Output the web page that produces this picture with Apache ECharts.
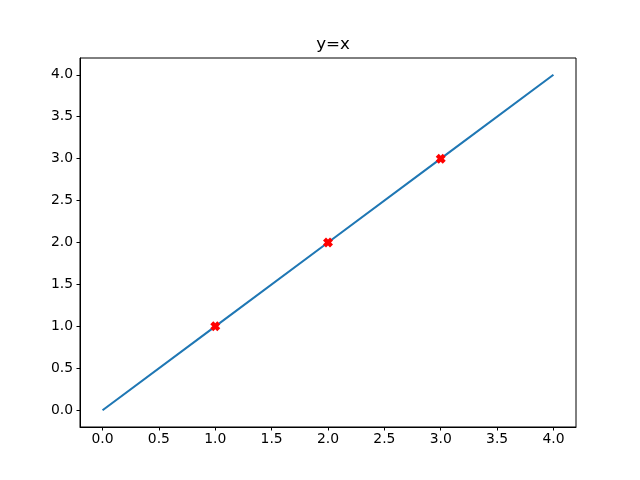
<!DOCTYPE html>
<html><head><meta charset="utf-8">
<script src="https://cdn.jsdelivr.net/npm/echarts@6/dist/echarts.min.js"></script>
<style>html,body{margin:0;padding:0;background:#fff}#c{width:640px;height:480px}</style>
</head><body><div id="c"></div>
<script>
const titleText = 'y=x';
const lineX = [0, 1, 2, 3, 4];
const lineY = [0, 1, 2, 3, 4];
const markX = [1, 2, 3];
const markY = [1, 2, 3];
const xTicks = [0, 0.5, 1, 1.5, 2, 2.5, 3, 3.5, 4];
const yTicks = [0, 0.5, 1, 1.5, 2, 2.5, 3, 3.5, 4];

const font = 'DejaVu Sans';
const chart = echarts.init(document.getElementById('c'), null, {renderer: 'canvas'});
const axisCommon = {
  type: 'value', min: -0.2, max: 4.2,
  axisLine: {show: true, onZero: false, lineStyle: {color: '#000', width: 1}},
  splitLine: {show: false},
};
chart.setOption({
  animation: false,
  backgroundColor: '#fff',
  title: {text: titleText, left: 328, textAlign: 'center', top: 31,
    textStyle: {fontFamily: font, fontSize: 16.7, fontWeight: 'normal', color: '#000'}},
  grid: {left: 80, right: 64, top: 58, bottom: 53, show: true, borderColor: '#000', borderWidth: 1, containLabel: false},
  xAxis: Object.assign({}, axisCommon, {
    axisTick: {show: true, inside: false, length: 3.5, customValues: xTicks, lineStyle: {color: '#000'}},
    axisLabel: {customValues: xTicks, margin: 5, fontFamily: font, fontSize: 13.9, color: '#000',
      formatter: v => v.toFixed(1)}
  }),
  yAxis: Object.assign({}, axisCommon, {
    axisTick: {show: true, inside: false, length: 3.5, customValues: yTicks, lineStyle: {color: '#000'}},
    axisLabel: {customValues: yTicks, margin: 7, fontFamily: font, fontSize: 13.9, color: '#000',
      formatter: v => v.toFixed(1)}
  }),
  series: [
    {type: 'line', data: lineX.map((x, i) => [x, lineY[i]]), showSymbol: false,
      lineStyle: {color: '#1f77b4', width: 2.08}, itemStyle: {color: '#1f77b4'}, z: 2},
    {type: 'scatter', data: markX.map((x, i) => [x, markY[i]]),
      symbol: 'path://M0,3 L3,0 L5,2 L7,0 L10,3 L8,5 L10,7 L7,10 L5,8 L3,10 L0,7 L2,5 Z',
      symbolSize: 10, itemStyle: {color: '#ff0000', opacity: 1}, z: 3}
  ]
});
</script></body></html>
